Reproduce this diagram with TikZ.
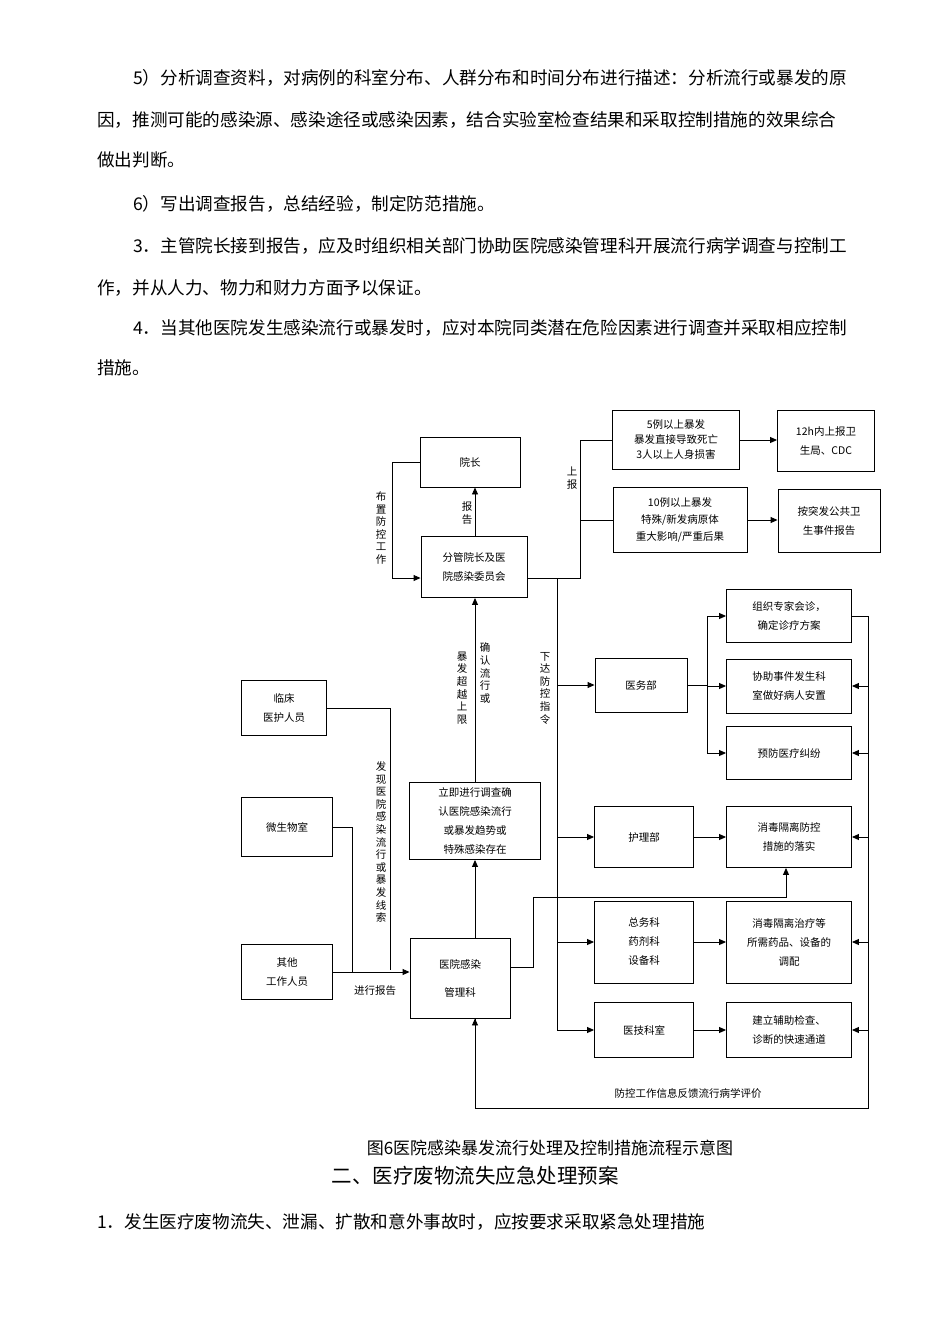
\documentclass[tikz,border=0pt]{standalone}
\usepackage{fontspec}
\setmainfont{Liberation Sans}
\newfontfamily\cjk{Noto Sans CJK SC}
\usetikzlibrary{arrows.meta}
\tikzset{
  box/.style={draw, line width=0.9pt, align=center, inner sep=1pt, font=\cjk\fontsize{10.5}{19}\selectfont},
  para/.style={anchor=west, inner sep=0pt, font=\cjk\fontsize{17.6}{20}\selectfont},
  lbl/.style={inner sep=0pt, align=center, font=\cjk\fontsize{10.5}{12.6}\selectfont},
  ln/.style={line width=0.9pt},
  arr/.style={line width=0.9pt, -{Triangle[length=7pt,width=6pt]}}
}
\begin{document}
\begin{tikzpicture}[x=1pt,y=1pt,yscale=-1]
\useasboundingbox (0,0) rectangle (950,1318);
% text above
\node[para] (p1) at (133,78) {5）分析调查资料，对病例的科室分布、人群分布和时间分布进行描述：分析流行或暴发的原};
\node[para] (p2) at (97,120) {因，推测可能的感染源、感染途径或感染因素，结合实验室检查结果和采取控制措施的效果综合};
\node[para] (p3) at (97,160) {做出判断。};
\node[para] (p4) at (133,204) {6）写出调查报告，总结经验，制定防范措施。};
\node[para] (p5) at (133,246) {3．主管院长接到报告，应及时组织相关部门协助医院感染管理科开展流行病学调查与控制工};
\node[para] (p6) at (97,288) {作，并从人力、物力和财力方面予以保证。};
\node[para] (p7) at (133,328) {4．当其他医院发生感染流行或暴发时，应对本院同类潜在危险因素进行调查并采取相应控制};
\node[para] (p8) at (97,368) {措施。};

% boxes
\node[box, minimum width=100, minimum height=50] (yz) at (470,462) {院长};
\node[box, minimum width=106, minimum height=61] (fg) at (474,567) {分管院长及医\\院感染委员会};
\node[box, minimum width=127, minimum height=59, font=\cjk\fontsize{10.5}{15}\selectfont] (b5) at (676,440) {5例以上暴发\\暴发直接导致死亡\\3人以上人身损害};
\node[box, minimum width=97, minimum height=61] (wsj) at (826,441) {12h内上报卫\\生局、CDC};
\node[box, minimum width=134, minimum height=65, font=\cjk\fontsize{10.5}{17}\selectfont] (b10) at (680,520) {10例以上暴发\\特殊/新发病原体\\重大影响/严重后果};
\node[box, minimum width=102, minimum height=63] (tf) at (829,521) {按突发公共卫\\生事件报告};
\node[box, minimum width=125, minimum height=53] (zj) at (789,616) {组织专家会诊，\\确定诊疗方案};
\node[box, minimum width=125, minimum height=54] (xz) at (789,686) {协助事件发生科\\室做好病人安置};
\node[box, minimum width=125, minimum height=53] (yf) at (789,753) {预防医疗纠纷};
\node[box, minimum width=92, minimum height=54] (ywb) at (641,685) {医务部};
\node[box, minimum width=85, minimum height=55] (lc) at (284,708) {临床\\医护人员};
\node[box, minimum width=91, minimum height=59] (wsw) at (287,827) {微生物室};
\node[box, minimum width=91, minimum height=55] (qt) at (287,972) {其他\\工作人员};
\node[box, minimum width=131, minimum height=77] (lj) at (475,821) {立即进行调查确\\认医院感染流行\\或暴发趋势或\\特殊感染存在};
\node[box, minimum width=100, minimum height=80, font=\cjk\fontsize{10.5}{28}\selectfont] (gl) at (460,978) {医院感染\\管理科};
\node[box, minimum width=99, minimum height=61] (hl) at (644,837) {护理部};
\node[box, minimum width=125, minimum height=61] (xd) at (789,837) {消毒隔离防控\\措施的落实};
\node[box, minimum width=99, minimum height=82] (zw) at (644,942) {总务科\\药剂科\\设备科};
\node[box, minimum width=125, minimum height=82] (zl) at (789,942) {消毒隔离治疗等\\所需药品、设备的\\调配};
\node[box, minimum width=99, minimum height=55] (yj) at (644,1030) {医技科室};
\node[box, minimum width=125, minimum height=55] (jl) at (789,1030) {建立辅助检查、\\诊断的快速通道};

% connectors
\draw[arr] (fg.north -| yz.south) ++(5,0) coordinate (fgn) -- (fgn |- yz.south);
\draw[arr] (yz.west) -| (392,578) -- (fg.west |- 0,578);
\draw[arr] (lj.north) -- (lj.north |- fg.south);
\draw[arr] (gl.north -| lj.south) -- (lj.south);
\draw[ln] (fg.east |- 0,578) -- (580,578) |- (b5.west);
\draw[ln] (580,520) -- (b10.west);
\draw[arr] (b5.east) -- (wsj.west |- b5.east);
\draw[arr] (b10.east) -- (tf.west |- b10.east);
\draw[ln] (557,578) -- (557,1030);
\draw[arr] (557,685) -- (ywb.west);
\draw[arr] (557,837) -- (hl.west);
\draw[arr] (557,942) -- (zw.west);
\draw[arr] (557,1030) -- (yj.west);
\draw[ln] (ywb.east) -- (707,685);
\draw[ln] (707,616) -- (707,753);
\draw[arr] (707,616) -- (zj.west);
\draw[arr] (707,753) -- (yf.west);
\draw[arr] (707,686) -- (xz.west);
\draw[arr] (hl.east) -- (xd.west);
\draw[arr] (zw.east) -- (zl.west);
\draw[arr] (yj.east) -- (jl.west);
\draw[ln] (zj.east) -- (868,616) -- (868,1108) -| (gl.south -| lj.south) coordinate (fb);
\draw[arr] (868,1108) -| (fb);
\foreach \b in {xz,yf,xd,zl,jl} \draw[arr] (868,0 |- \b.east) -- (\b.east);
\draw[ln] (lc.east) -| (390,970);
\draw[ln] (wsw.east) -| (352,972);
\draw[arr] (qt.east) -- (gl.west |- qt.east);
\draw[arr] (gl.east |- 0,967) -- (533,967) |- (786,897) -- (xd.south -| 786,0);

% labels
\node[lbl] (l1) at (381,528) {布\\置\\防\\控\\工\\作};
\node[lbl] (l2) at (467,513) {报\\告};
\node[lbl] (l3) at (572,478) {上\\报};
\node[lbl] (l4) at (462,688) {暴\\发\\超\\越\\上\\限};
\node[lbl] (l5) at (485,673) {确\\认\\流\\行\\或};
\node[lbl] (l6) at (545,688) {下\\达\\防\\控\\指\\令};
\node[lbl] (l7) at (381,842) {发\\现\\医\\院\\感\\染\\流\\行\\或\\暴\\发\\线\\索};
\node[lbl] (l8) at (375,991) {进行报告};
\node[lbl] (l9) at (688,1093) {防控工作信息反馈流行病学评价};

% caption and text below
\node[inner sep=0pt, font=\cjk\fontsize{17}{19}\selectfont] (cap) at (550,1148) {图6医院感染暴发流行处理及控制措施流程示意图};
\node[inner sep=0pt, font=\cjk\fontsize{20.5}{22}\selectfont] (h2) at (475,1176) {二、医疗废物流失应急处理预案};
\node[para] (p9) at (97,1222) {1．发生医疗废物流失、泄漏、扩散和意外事故时，应按要求采取紧急处理措施};
\end{tikzpicture}
\end{document}
